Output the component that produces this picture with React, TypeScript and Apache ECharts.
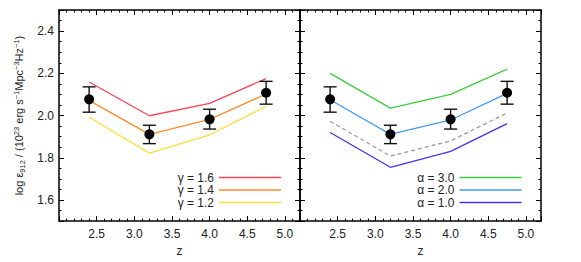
import React, { useEffect, useRef } from "react";
import * as echarts from "echarts";

const zObs = [2.4, 3.2, 4.0, 4.75];
const logEps = [2.077, 1.911, 1.982, 2.108];
const errLow = [2.016, 1.867, 1.936, 2.054];
const errHigh = [2.136, 1.954, 2.03, 2.162];

const gamma16 = [2.159, 1.999, 2.058, 2.175];
const gamma14 = [2.072, 1.911, 1.982, 2.102];
const gamma12 = [1.992, 1.822, 1.909, 2.043];

const alpha30 = [2.2, 2.035, 2.1, 2.22];
const alpha20 = [2.075, 1.911, 1.979, 2.105];
const alphaRef = [1.973, 1.808, 1.88, 2.012];
const alpha10 = [1.92, 1.755, 1.83, 1.962];

const leftNames = ["γ = 1.6", "γ = 1.4", "γ = 1.2"];
const rightNames = ["α = 3.0", "α = 2.0", "α = 1.0"];

const FONT = "Liberation Sans, Arial, Helvetica, sans-serif";

const pair = (ys: number[]) => zObs.map((z, i) => [z, ys[i]]);

export default function App() {
  const ref = useRef<HTMLDivElement>(null);
  useEffect(() => {
    if (!ref.current) return;
    const chart = echarts.init(ref.current, undefined, { renderer: "svg" });

    const axisLine = { show: true, lineStyle: { color: "#000", width: 1.5 } };
    const mkX = (grid: number, pos: "bottom" | "top", labels: boolean) => ({
      type: "value",
      gridIndex: grid,
      position: pos,
      min: 2.0,
      max: 5.2,
      interval: 0.5,
      name: labels ? "z" : "",
      nameLocation: "middle",
      nameGap: 17,
      nameTextStyle: { fontSize: 12, color: "#222", fontFamily: FONT },
      axisLine,
      axisTick: { show: true, inside: true, length: 5, lineStyle: { color: "#000", width: 1 } },
      minorTick: { show: true, splitNumber: 5, length: 2.5, lineStyle: { color: "#000", width: 1 } },
      axisLabel: {
        show: labels,
        showMinLabel: false,
        showMaxLabel: false,
        fontSize: 12,
        color: "#222",
        fontFamily: FONT,
        margin: 7,
        formatter: (v: number) => v.toFixed(1),
      },
      splitLine: { show: false },
    });
    const yName =
      "{a|log ε}{sub|912}{a| / (10}{sup|23}{a| erg s}{sup|−1}{a|Mpc}{sup|−3}{a|Hz}{sup|−1}{a|)}";
    const mkY = (grid: number, pos: "left" | "right", labels: boolean) => ({
      type: "value",
      gridIndex: grid,
      position: pos,
      min: 1.5,
      max: 2.5,
      splitNumber: 5,
      name: labels ? yName : "",
      nameLocation: "middle",
      nameGap: 33,
      nameTextStyle: {
        fontFamily: FONT,
        color: "#222",
        rich: {
          a: { fontSize: 11, lineHeight: 14, color: "#222", fontFamily: FONT, verticalAlign: "middle" },
          sup: { fontSize: 7.5, lineHeight: 14, color: "#222", fontFamily: FONT, verticalAlign: "top", padding: [0, 0, 5, 0] },
          sub: { fontSize: 7.5, lineHeight: 14, color: "#222", fontFamily: FONT, verticalAlign: "bottom", padding: [4, 0, 0, 0] },
        },
      },
      axisLine,
      axisTick: { show: true, inside: true, length: 5, lineStyle: { color: "#000", width: 1 } },
      minorTick: { show: true, splitNumber: 4, length: 2.5, lineStyle: { color: "#000", width: 1 } },
      axisLabel: {
        show: labels,
        showMinLabel: false,
        showMaxLabel: false,
        fontSize: 12,
        color: "#222",
        fontFamily: FONT,
        margin: 5,
        formatter: (v: number) => v.toFixed(1),
      },
      splitLine: { show: false },
    });

    const lineS = (name: string, data: number[], color: string, xi: number, yi: number, dashed = false) => ({
      type: "line",
      name,
      xAxisIndex: xi,
      yAxisIndex: yi,
      data: pair(data),
      symbol: "none",
      showSymbol: false,
      lineStyle: { color, width: 1.3, type: dashed ? [4, 3] : "solid" },
      itemStyle: { color },
      z: 2,
    });

    const errData = zObs.map((z, i) => [z, errLow[i], errHigh[i]]);
    const errS = (xi: number, yi: number) => ({
      type: "custom",
      xAxisIndex: xi,
      yAxisIndex: yi,
      data: errData,
      z: 3,
      renderItem: (params: any, api: any) => {
        const x = api.value(0);
        const lo = api.coord([x, api.value(1)]);
        const hi = api.coord([x, api.value(2)]);
        const w = 6.5;
        const style = { stroke: "#111", lineWidth: 1.4 };
        return {
          type: "group",
          children: [
            { type: "line", shape: { x1: lo[0], y1: lo[1], x2: hi[0], y2: hi[1] }, style },
            { type: "line", shape: { x1: lo[0] - w, y1: lo[1], x2: lo[0] + w, y2: lo[1] }, style },
            { type: "line", shape: { x1: hi[0] - w, y1: hi[1], x2: hi[0] + w, y2: hi[1] }, style },
          ],
        };
      },
    });
    const ptS = (xi: number, yi: number) => ({
      type: "scatter",
      xAxisIndex: xi,
      yAxisIndex: yi,
      data: pair(logEps),
      symbol: "circle",
      symbolSize: 10,
      itemStyle: { color: "#000", opacity: 1 },
      z: 4,
    });

    const legendCommon = {
      orient: "vertical",
      align: "right",
      icon: "rect",
      itemWidth: 62,
      itemHeight: 1.4,
      itemGap: 0.5,
      padding: 0,
      top: 171.5,
      textStyle: { fontSize: 12, lineHeight: 12, color: "#222", fontFamily: FONT, padding: [0, 0, 0, 0] },
    };

    chart.setOption({
      animation: false,
      backgroundColor: "#fff",
      grid: [
        { left: 59, top: 10, width: 241, height: 215 },
        { left: 300, top: 10, width: 241, height: 215 },
      ],
      xAxis: [mkX(0, "bottom", true), mkX(0, "top", false), mkX(1, "bottom", true), mkX(1, "top", false)],
      yAxis: [mkY(0, "left", true), mkY(0, "right", false), mkY(1, "left", false), mkY(1, "right", false)],
      legend: [
        { ...legendCommon, right: 300, data: leftNames },
        { ...legendCommon, right: 59.5, data: rightNames },
      ],
      series: [
        lineS(leftNames[0], gamma16, "#ff4455", 0, 0),
        lineS(leftNames[1], gamma14, "#ff8c2a", 0, 0),
        lineS(leftNames[2], gamma12, "#ffdd3a", 0, 0),
        errS(0, 0),
        ptS(0, 0),
        lineS(rightNames[0], alpha30, "#3fcc3f", 2, 2),
        lineS(rightNames[1], alpha20, "#4499ff", 2, 2),
        lineS("ref", alphaRef, "#999999", 2, 2, true),
        lineS(rightNames[2], alpha10, "#4433ee", 2, 2),
        errS(2, 2),
        ptS(2, 2),
      ],
    });
    return () => chart.dispose();
  }, []);
  return <div ref={ref} style={{ width: 581, height: 262, position: "absolute", left: 0, top: 0 }} />;
}
